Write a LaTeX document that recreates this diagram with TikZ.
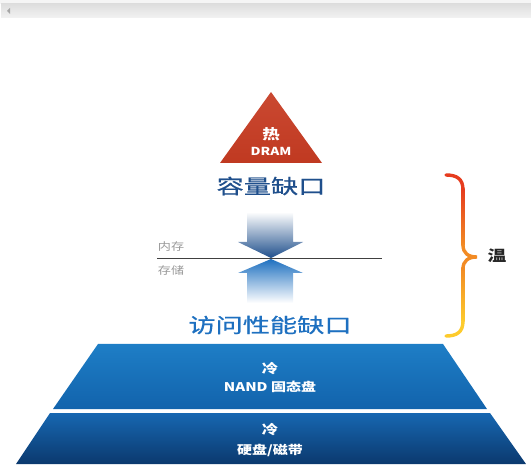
\documentclass[tikz,border=0pt]{standalone}
\usepackage{fontspec}
\newfontfamily\cjk[FakeStretch=1.25]{Noto Sans CJK SC}
\newfontfamily\cjkgap[FakeStretch=1.36, FakeBold=0.6]{Noto Sans CJK SC}
\usepackage{xcolor}
\usepackage{tikz}
\usetikzlibrary{positioning}
\usetikzlibrary{calc}

\definecolor{hotred}{HTML}{C63B22}
\definecolor{gapnavy}{HTML}{1F4F8C}
\definecolor{gapblue}{HTML}{1E70C0}
\definecolor{nandtop}{HTML}{1E7EC6}
\definecolor{nandbot}{HTML}{1263AC}
\definecolor{hddtop}{HTML}{1767B1}
\definecolor{hddbot}{HTML}{0B396E}
\definecolor{bracered}{HTML}{E63C1E}
\definecolor{braceorange}{HTML}{F28B24}
\definecolor{braceyellow}{HTML}{FDCB2D}

\begin{document}
\begin{tikzpicture}[
  x=1pt, y=-1pt,
  font=\cjk,
  gap/.style={font=\cjkgap\fontsize{20}{20}\selectfont},
  tiertext/.style={text=white, font=\cjk\bfseries\fontsize{12}{12}\selectfont},
  sidetext/.style={text=black!40, font=\cjk\fontsize{10.5}{10.5}\selectfont},
  brace/.style={line width=3.4pt, line cap=round}
]
\useasboundingbox (0,0) rectangle (531,468);

% Window bar on top
\fill[black!4] (0,0) rectangle (531,4);
\shade[top color=black!13, bottom color=black!5] (1,4) rectangle (531,18);
\fill[black!35] (7,11) -- (10,8) -- (10,14) -- cycle;

% Hot tier: DRAM
\shade[top color=hotred!93!white, bottom color=hotred!97!black]
  (271,92) -- (322,163) -- (220,163) -- cycle;
\node[text=white, font=\cjk\bfseries\fontsize{14}{14}\selectfont] (hot) at (271,134) {热};
\node[text=white, font=\cjk\bfseries\fontsize{11}{11}\selectfont] (dram) at (271,151) {DRAM};

% Capacity gap
\node[gap, text=gapnavy] (capgap) at (271,186) {容量缺口};

% Arrows meeting at the memory / storage line
\shade[top color=white, bottom color=gapnavy]
  (247,212) -- (293,212) -- (293,242) -- (303,242) -- (271,258)
  -- (238,242) -- (247,242) -- cycle;
\shade[top color=gapblue, bottom color=white]
  (271,259) -- (303,273) -- (293,273) -- (293,303) -- (247,303)
  -- (247,273) -- (238,273) -- cycle;

\coordinate (divl) at (157,258);
\coordinate (divr) at (382,258);
\draw[black!75, line width=0.9pt] (divl) -- (divr);
\node[sidetext] (mem) at (171,247) {内存};
\node[sidetext] (stor) at (171,270) {存储};

% Access performance gap
\node[gap, text=gapblue] (accgap) at (270,325) {访问性能缺口};

% Warm brace
\draw[brace, bracered] (446,175) .. controls (457,175) and (463,179) .. (463,190);
\shade[top color=bracered, bottom color=braceorange] (461.3,189) rectangle (464.7,246);
\draw[brace, braceorange] (463,245) .. controls (463,253) and (468,257) .. (477,257)
  .. controls (468,257) and (463,261) .. (463,269);
\shade[top color=braceorange, bottom color=braceyellow] (461.3,268) rectangle (464.7,322);
\draw[brace, braceyellow] (463,321) .. controls (463,332) and (457,336) .. (446,336);
\node[text=black!85, font=\cjk\bfseries\fontsize{15}{15}\selectfont] (warm) at (497,256) {温};

% Cold tier: NAND
\shade[top color=nandtop, bottom color=nandbot]
  (98,344) -- (443,344) -- (487,409) -- (53,409) -- cycle;
\node[tiertext, font=\cjk\bfseries\fontsize{13}{13}\selectfont] (cold1) at (270,369) {冷};
\node[tiertext] (nand) at (270,387) {NAND 固态盘};

% Cold tier: HDD / tape
\shade[top color=hddtop, bottom color=hddbot]
  (50,413) -- (490,413) -- (526,464) -- (16,464) -- cycle;
\node[tiertext, font=\cjk\bfseries\fontsize{13}{13}\selectfont] (cold2) at (270,430) {冷};
\node[tiertext] (hdd) at (270,450) {硬盘/磁带};

\end{tikzpicture}
\end{document}
